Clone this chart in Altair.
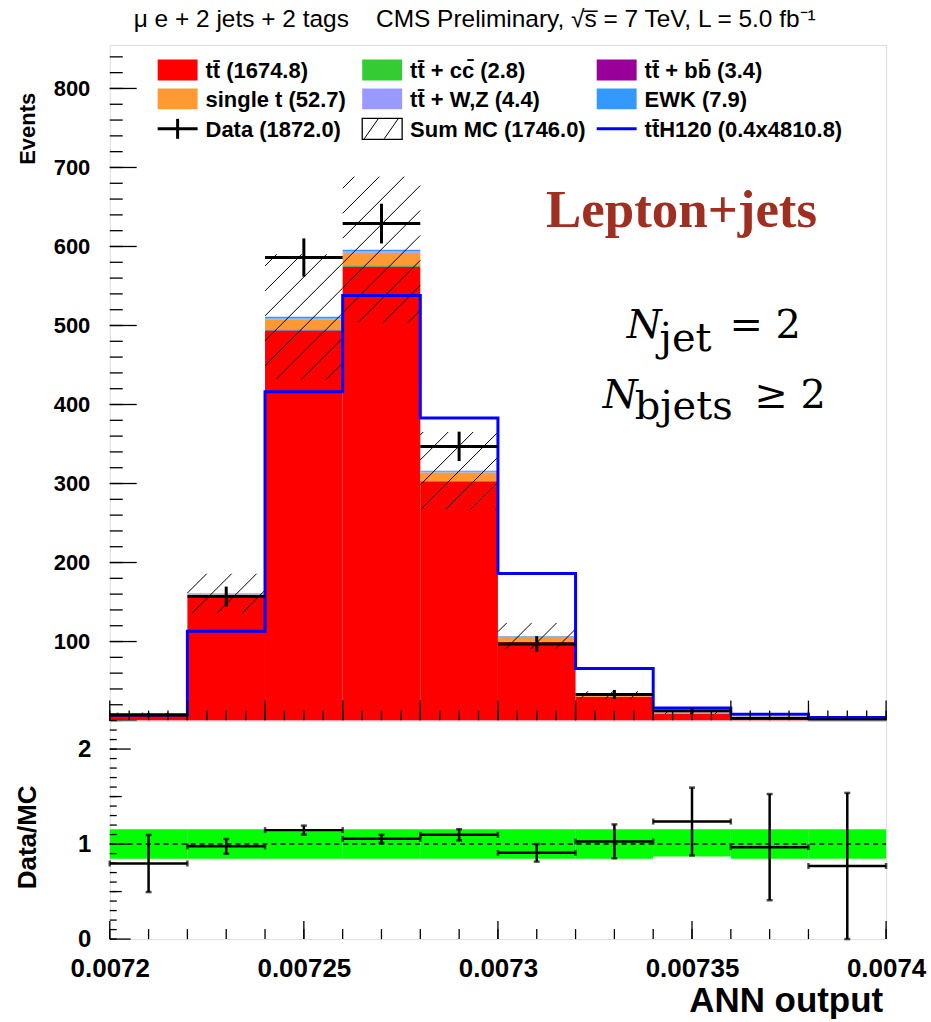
import altair as alt
import numpy as np
import pandas as pd

# ---------------- binning of the ANN output ----------------
x_lo, x_hi = 0.0072, 0.0074
bin_edges = [0.00720, 0.00722, 0.00724, 0.00726, 0.00728, 0.00730,
             0.00732, 0.00734, 0.00736, 0.00738, 0.00740]

# ---------------- expected yields per bin ----------------
ttbar    = [8.3, 155.0, 493.0, 574.0, 302.0, 99.5, 30.0, 9.0, 2.8, 1.2]
ttcc     = [0.0, 0.3, 0.8, 0.9, 0.5, 0.2, 0.1, 0.0, 0.0, 0.0]
ttbb     = [0.0, 0.3, 1.0, 1.1, 0.6, 0.3, 0.1, 0.0, 0.0, 0.0]
single_t = [0.3, 4.0, 13.0, 16.0, 11.0, 6.0, 1.6, 0.5, 0.2, 0.1]
ttV      = [0.0, 0.3, 1.2, 1.5, 0.9, 0.3, 0.1, 0.1, 0.0, 0.0]
ewk      = [0.2, 1.0, 2.0, 2.5, 1.2, 0.6, 0.2, 0.1, 0.1, 0.0]

# observed events and scaled ttH(120) signal
data_obs = [7, 157, 586, 629, 347, 97, 33, 12, 3, 1]
tth_sig  = [7.0, 113.0, 416.0, 538.0, 383.0, 186.0, 66.0, 16.0, 8.0, 4.0]

# relative MC uncertainty band (lower / upper edge of Data/MC band)
band_lo = [0.845, 0.845, 0.845, 0.845, 0.845, 0.845, 0.845, 0.868, 0.845, 0.845]
band_hi = [1.155, 1.155, 1.155, 1.155, 1.155, 1.155, 1.155, 1.155, 1.155, 1.155]

comp_names  = ["tt", "ttcc", "ttbb", "single t", "ttV", "EWK"]
comp_values = [ttbar, ttcc, ttbb, single_t, ttV, ewk]
comp_colors = ["#ff0000", "#33cc33", "#990099", "#ff9933", "#9999ff", "#3399ff"]

# ---------------- layout ----------------
W, H_TOP, H_BOT = 778, 677, 219
Y_TOP_MAX, Y_BOT_MAX = 855, 2.3
LEFT, TOP, TOTAL_W, TOTAL_H = 109, 43, 931, 1022
SANS = "Liberation Sans"

xscale = alt.Scale(domain=[x_lo, x_hi], nice=False, zero=False)
yscale_top = alt.Scale(domain=[0, Y_TOP_MAX], nice=False)
yscale_bot = alt.Scale(domain=[0, Y_BOT_MAX], nice=False)

# shared axis definitions (identical in every layer so they merge cleanly)
ax_top_y = alt.Axis(values=list(range(100, 900, 100)), ticks=False, tickSize=0,
                    domain=False, grid=False, labelPadding=20, title=None,
                    labelFont=SANS, labelFontSize=22, labelFontWeight="bold",
                    labelColor="black")
ax_bot_x = alt.Axis(values=[0.0072, 0.00725, 0.0073, 0.00735, 0.0074],
                    labelExpr="format(datum.value, '.5~f')", ticks=False, tickSize=0,
                    domain=False, grid=False, labelPadding=16, title=None,
                    labelFont=SANS, labelFontSize=26, labelFontWeight="bold",
                    labelColor="black", labelFlush=False, labelOverlap=False)
ax_bot_y = alt.Axis(values=[0, 1, 2], ticks=False, tickSize=0, domain=False, grid=False,
                    labelPadding=19, title=None, labelFont=SANS, labelFontSize=24,
                    labelFontWeight="bold", labelColor="black")

one = pd.DataFrame({"k": [0]})
nb = len(bin_edges) - 1
lo = bin_edges[:-1]
hi = bin_edges[1:]
centers = [(a + b) / 2 for a, b in zip(lo, hi)]

# stacked MC
stack_rows = []
mc_total = [0.0] * nb
for name, vals in zip(comp_names, comp_values):
    for i in range(nb):
        stack_rows.append(dict(lo=lo[i], hi=hi[i], comp=name,
                               y0=mc_total[i], y1=mc_total[i] + vals[i]))
        mc_total[i] += vals[i]
stack_df = pd.DataFrame(stack_rows)

# hatched MC uncertainty: 45 degree lines clipped to each bin's band
px_x = W / (x_hi - x_lo)
px_y = H_TOP / Y_TOP_MAX
step = 25.0
segs = []
for i in range(nb):
    u0 = (lo[i] - x_lo) * px_x
    u1 = (hi[i] - x_lo) * px_x
    v0 = mc_total[i] * band_lo[i] * px_y
    v1 = mc_total[i] * band_hi[i] * px_y
    for m in range(int(np.floor((v0 - u1) / step)) - 1, int(np.ceil((v1 - u0) / step)) + 2):
        k = m * step
        a = max(u0, v0 - k)
        b = min(u1, v1 - k)
        if b - a > 0.5:
            segs.append(dict(x=x_lo + a / px_x, y=(a + k) / px_y,
                             x2=x_lo + b / px_x, y2=(b + k) / px_y))
hatch_df = pd.DataFrame(segs)

# data points with Poisson errors
data_df = pd.DataFrame(dict(lo=lo, hi=hi, c=centers, n=data_obs))
data_df["e_lo"] = data_df["n"] - np.sqrt(data_df["n"])
data_df["e_hi"] = data_df["n"] + np.sqrt(data_df["n"])

# signal histogram outline
tth_df = pd.DataFrame(dict(x=bin_edges, y=tth_sig + [tth_sig[-1]]))

# ratio panel
ratio_df = pd.DataFrame(dict(lo=lo, hi=hi, c=centers,
                             r=[d / m for d, m in zip(data_obs, mc_total)],
                             e=[np.sqrt(d) / m for d, m in zip(data_obs, mc_total)]))
ratio_df["r_lo"] = (ratio_df["r"] - ratio_df["e"]).clip(lower=0)
ratio_df["r_hi"] = ratio_df["r"] + ratio_df["e"]
band_df = pd.DataFrame(dict(lo=lo, hi=hi, b0=band_lo, b1=band_hi))


def text_at(txt, px, py, size, **kw):
    return alt.Chart(one).mark_text(text=txt, fontSize=size, **kw).encode(
        x=alt.value(px), y=alt.value(py))


def rect_at(x0, x1, y0, y1, **kw):
    return alt.Chart(one).mark_rect(**kw).encode(
        x=alt.value(x0), x2=alt.value(x1), y=alt.value(y0), y2=alt.value(y1))


def seg_at(x0, y0, x1, y1, **kw):
    return alt.Chart(one).mark_rule(**kw).encode(
        x=alt.value(x0), y=alt.value(y0), x2=alt.value(x1), y2=alt.value(y1))


def XT(field):
    return alt.X(field, scale=xscale, axis=None)


def YT(field):
    return alt.Y(field, scale=yscale_top, axis=ax_top_y)


def XB(field):
    return alt.X(field, scale=xscale, axis=ax_bot_x)


def YB(field):
    return alt.Y(field, scale=yscale_bot, axis=ax_bot_y)


# ---------------- top panel ----------------
stack = alt.Chart(stack_df).mark_rect().encode(
    x=XT("lo:Q"), x2="hi:Q", y=YT("y0:Q"), y2="y1:Q",
    color=alt.Color("comp:N", scale=alt.Scale(domain=comp_names, range=comp_colors), legend=None),
)

hatch = alt.Chart(hatch_df).mark_rule(color="black", strokeWidth=1).encode(
    x=XT("x:Q"), y=YT("y:Q"), x2="x2:Q", y2="y2:Q")

tth_line = alt.Chart(tth_df).mark_line(interpolate="step-after", color="#0000ff", strokeWidth=3).encode(
    x=XT("x:Q"), y=YT("y:Q"))

data_h = alt.Chart(data_df).mark_rule(color="black", strokeWidth=3).encode(
    x=XT("lo:Q"), x2="hi:Q", y=YT("n:Q"))
data_v = alt.Chart(data_df).mark_rule(color="black", strokeWidth=3).encode(
    x=XT("c:Q"), y=YT("e_lo:Q"), y2="e_hi:Q")

# inward ticks of the frames
ytick_minor = pd.DataFrame({"v": [20 * i for i in range(43)]})
ytick_major = pd.DataFrame({"v": [100 * i for i in range(9)]})
xtick_top_minor = pd.DataFrame({"v": [x_lo + 0.000005 * i for i in range(41)]})
xtick_top_major = pd.DataFrame({"v": bin_edges})


def yticks(df, ych, length):
    return alt.Chart(df).mark_rule(color="black", strokeWidth=1.3).encode(
        y=ych("v:Q"), x=alt.value(0), x2=alt.value(length))


def xticks(df, xch, height, length):
    return alt.Chart(df).mark_rule(color="black", strokeWidth=1.3).encode(
        x=xch("v:Q"), y=alt.value(height), y2=alt.value(height - length))


# legend (three columns)
sw_x = [48, 253, 488]
tx_x = [96, 301, 536]
rows_y = [25, 54, 84]
leg = []
swatches = [(0, 0, "#ff0000", "tt\u0304 (1674.8)"),
            (1, 0, "#33cc33", "tt\u0304 + cc\u0304 (2.8)"),
            (2, 0, "#990099", "tt\u0304 + bb\u0304 (3.4)"),
            (0, 1, "#ff9933", "single t (52.7)"),
            (1, 1, "#9999ff", "tt\u0304 + W,Z (4.4)"),
            (2, 1, "#3399ff", "EWK (7.9)")]
for col, row, colr, txt in swatches:
    leg.append(rect_at(sw_x[col], sw_x[col] + 40, rows_y[row] - 10.5, rows_y[row] + 10.5, color=colr))
for col, row, txt in [(0, 2, "Data (1872.0)"), (1, 2, "Sum MC (1746.0)"),
                      (2, 2, "tt\u0304H120 (0.4x4810.8)")] + [(c, r, t) for c, r, _, t in swatches]:
    leg.append(text_at(txt, tx_x[col], rows_y[row] + 1, 22, font=SANS, fontWeight="bold",
                       align="left", baseline="middle", color="black"))
# data marker
leg.append(seg_at(sw_x[0], rows_y[2], sw_x[0] + 40, rows_y[2], color="black", strokeWidth=3))
leg.append(seg_at(sw_x[0] + 20, rows_y[2] - 10, sw_x[0] + 20, rows_y[2] + 10, color="black", strokeWidth=3))
# hatched box
leg.append(rect_at(sw_x[1], sw_x[1] + 40, rows_y[2] - 10.5, rows_y[2] + 10.5,
                   fill="white", stroke="black", strokeWidth=1.3))
leg.append(seg_at(sw_x[1] + 2, rows_y[2] + 10, sw_x[1] + 16, rows_y[2] - 10, color="black", strokeWidth=1))
leg.append(seg_at(sw_x[1] + 22, rows_y[2] + 10, sw_x[1] + 36, rows_y[2] - 10, color="black", strokeWidth=1))
# signal line
leg.append(seg_at(sw_x[2], rows_y[2], sw_x[2] + 40, rows_y[2], color="#0000ff", strokeWidth=3))

# annotations
notes = [
    text_at("\u03bc e + 2 jets + 2 tags\u00a0\u00a0\u00a0\u00a0CMS Preliminary, \u221as\u0305 = 7 TeV, L = 5.0 fb\u207b\u00b9",
            24, -25, 24.5, font=SANS, align="left", baseline="middle", color="black"),
    text_at("Events", -82, 84, 22, font=SANS, fontWeight="bold", angle=270,
            align="center", baseline="middle", color="black"),
    text_at("Lepton+jets", 573, 182, 53, font="Liberation Serif", fontWeight="bold",
            align="center", baseline="alphabetic", color="#9e2f21"),
    text_at("N", 518, 294, 40, font="DejaVu Serif", fontStyle="italic", align="left",
            baseline="alphabetic", color="black"),
    text_at("jet", 551, 307, 40, font="DejaVu Serif", align="left", baseline="alphabetic", color="black"),
    text_at("= 2", 621, 294, 40, font="DejaVu Serif", align="left", baseline="alphabetic", color="black"),
    text_at("N", 494, 364, 40, font="DejaVu Serif", fontStyle="italic", align="left",
            baseline="alphabetic", color="black"),
    text_at("bjets", 526, 375, 40, font="DejaVu Serif", align="left", baseline="alphabetic", color="black"),
    text_at("\u2265 2", 646, 364, 40, font="DejaVu Serif", align="left", baseline="alphabetic", color="black"),
]

anchor_top = seg_at(-LEFT + 0.5, -TOP + 0.5, TOTAL_W - LEFT - 0.5, -TOP + 0.5, color="white", strokeWidth=1)

top = alt.layer(
    stack, hatch, tth_line, data_h, data_v,
    yticks(ytick_minor, YT, 13), yticks(ytick_major, YT, 27),
    xticks(xtick_top_minor, XT, H_TOP, 10), xticks(xtick_top_major, XT, H_TOP, 20),
    *leg, *notes, anchor_top,
).properties(width=W, height=H_TOP)

# ---------------- ratio panel ----------------
band = alt.Chart(band_df).mark_rect(color="#00ff00").encode(
    x=XB("lo:Q"), x2="hi:Q", y=YB("b0:Q"), y2="b1:Q")

unity = alt.Chart(pd.DataFrame({"y": [1.0]})).mark_rule(
    color="black", strokeWidth=1.5, strokeDash=[5, 4]).encode(
    y=YB("y:Q"), x=alt.value(0), x2=alt.value(W))

ratio_h = alt.Chart(ratio_df).mark_rule(color="black", strokeWidth=2.5).encode(
    x=XB("lo:Q"), x2="hi:Q", y=YB("r:Q"))
ratio_v = alt.Chart(ratio_df).mark_rule(color="black", strokeWidth=2.5).encode(
    x=XB("c:Q"), y=YB("r_lo:Q"), y2="r_hi:Q")
caps = [alt.Chart(ratio_df).mark_tick(color="black", orient="horizontal", size=6, thickness=2.5).encode(
            x=XB("c:Q"), y=YB(f"{f}:Q"))
        for f in ("r_lo", "r_hi")]
hcaps = [alt.Chart(ratio_df).mark_tick(color="black", orient="vertical", size=6, thickness=2.5).encode(
             x=XB(f"{f}:Q"), y=YB("r:Q"))
         for f in ("lo", "hi")]

rtick_minor = pd.DataFrame({"v": [0.1 * i for i in range(24)]})
rtick_mid = pd.DataFrame({"v": [0.5, 1.5]})
rtick_major = pd.DataFrame({"v": [0.0, 1.0, 2.0]})
xtick_bot_minor = pd.DataFrame({"v": [x_lo + 0.00001 * i for i in range(21)]})
xtick_bot_major = pd.DataFrame({"v": [0.0072, 0.00725, 0.0073, 0.00735, 0.0074]})

anchor_bot = seg_at(-LEFT + 0.5, TOTAL_H - TOP - H_TOP - 0.5, 0, TOTAL_H - TOP - H_TOP - 0.5,
                    color="white", strokeWidth=1)

bottom = alt.layer(
    band, unity, ratio_h, ratio_v, *caps, *hcaps,
    yticks(rtick_minor, YB, 7), yticks(rtick_mid, YB, 12), yticks(rtick_major, YB, 21),
    xticks(xtick_bot_minor, XB, H_BOT, 10), xticks(xtick_bot_major, XB, H_BOT, 18),
    text_at("Data/MC", -82, 117, 26, font=SANS, fontWeight="bold", angle=270,
            align="center", baseline="middle", color="black"),
    text_at("ANN output", W - 3, 292, 35, font=SANS, fontWeight="bold",
            align="right", baseline="alphabetic", color="black"),
    anchor_bot,
).properties(width=W, height=H_BOT)

chart = alt.vconcat(top, bottom, spacing=0, bounds="flush").properties(
    padding=0, background="white"
).configure_view(stroke="black", strokeWidth=1.5).configure(font=SANS)

chart.save("out.html", embed_options={"renderer": "svg", "actions": False})
